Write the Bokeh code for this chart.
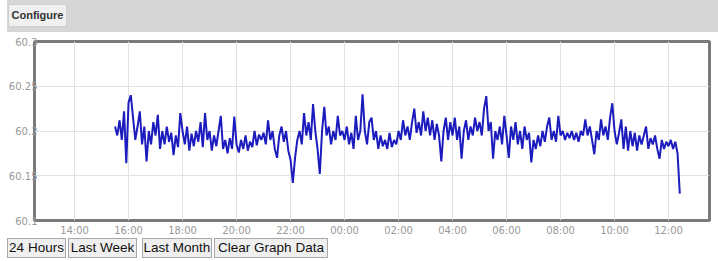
import pandas as pd
from bokeh.plotting import figure
from bokeh.models import Div, FixedTicker, DatetimeTickFormatter, Range1d, ColumnDataSource
from bokeh.layouts import column
from bokeh.embed import file_html
from bokeh.resources import INLINE

# ---------------- data ----------------
start_time = "2017-06-01 15:30"
sample_minutes = 5

seg_1530 = [60.205, 60.195, 60.212, 60.19, 60.222, 60.164]
h16 = [60.232, 60.240, 60.215, 60.19, 60.205, 60.222, 60.185, 60.205, 60.166, 60.2, 60.185, 60.21]
h17 = [60.195, 60.218, 60.18, 60.2, 60.185, 60.205, 60.188, 60.198, 60.173, 60.195, 60.182, 60.22]
h18 = [60.2, 60.185, 60.205, 60.178, 60.197, 60.183, 60.2, 60.188, 60.21, 60.182, 60.22, 60.19]
h19 = [60.2, 60.178, 60.195, 60.183, 60.2, 60.217, 60.18, 60.19, 60.175, 60.192, 60.18, 60.216]
h20 = [60.185, 60.176, 60.19, 60.18, 60.195, 60.178, 60.188, 60.182, 60.2, 60.184, 60.196, 60.19]
h21 = [60.198, 60.185, 60.212, 60.19, 60.2, 60.18, 60.17, 60.195, 60.205, 60.188, 60.2, 60.178]
h22 = [60.168, 60.142, 60.17, 60.19, 60.2, 60.185, 60.22, 60.195, 60.21, 60.19, 60.23, 60.2]
h23 = [60.18, 60.152, 60.2, 60.227, 60.195, 60.205, 60.185, 60.2, 60.19, 60.217, 60.195, 60.2]
h00 = [60.19, 60.205, 60.185, 60.198, 60.18, 60.217, 60.19, 60.2, 60.241, 60.2, 60.185, 60.21]
h01 = [60.215, 60.19, 60.2, 60.18, 60.195, 60.183, 60.19, 60.18, 60.198, 60.182, 60.19, 60.185]
h02 = [60.2, 60.19, 60.212, 60.195, 60.205, 60.19, 60.21, 60.225, 60.198, 60.21, 60.195, 60.222]
h03 = [60.2, 60.215, 60.195, 60.212, 60.19, 60.208, 60.195, 60.166, 60.2, 60.215, 60.19, 60.21]
h04 = [60.195, 60.215, 60.19, 60.205, 60.169, 60.2, 60.212, 60.19, 60.205, 60.195, 60.215, 60.2]
h05 = [60.21, 60.195, 60.225, 60.239, 60.2, 60.21, 60.169, 60.2, 60.19, 60.205, 60.185, 60.217]
h06 = [60.195, 60.17, 60.205, 60.19, 60.21, 60.185, 60.2, 60.18, 60.205, 60.19, 60.198, 60.165]
h07 = [60.19, 60.18, 60.195, 60.183, 60.2, 60.188, 60.205, 60.215, 60.19, 60.2, 60.188, 60.217]
h08 = [60.195, 60.2, 60.19, 60.198, 60.192, 60.2, 60.19, 60.198, 60.188, 60.2, 60.195, 60.213]
h09 = [60.195, 60.205, 60.19, 60.174, 60.2, 60.19, 60.213, 60.195, 60.205, 60.19, 60.215, 60.231]
h10 = [60.2, 60.185, 60.198, 60.213, 60.18, 60.205, 60.178, 60.2, 60.183, 60.198, 60.178, 60.195]
h11 = [60.185, 60.195, 60.205, 60.18, 60.192, 60.185, 60.195, 60.18, 60.169, 60.19, 60.18, 60.188]
seg_1200 = [60.183, 60.19, 60.18, 60.188, 60.175, 60.13]

x_start = "2017-06-01 12:31"
x_end = "2017-06-02 13:31"
x_first_tick = "2017-06-01 14:00"
x_last_tick = "2017-06-02 12:00"
y_ticks = [60.1, 60.15, 60.2, 60.25, 60.3]
y_tick_labels = ["60.1", "60.15", "60.2", "60.25", "60.3"]
top_button = "Configure"
bottom_buttons = ["24 Hours", "Last Week", "Last Month", "Clear Graph Data"]

# ---------------- build ----------------
freq = (seg_1530 + h16 + h17 + h18 + h19 + h20 + h21 + h22 + h23 + h00 + h01 +
        h02 + h03 + h04 + h05 + h06 + h07 + h08 + h09 + h10 + h11 + seg_1200)
times = pd.date_range(start_time, periods=len(freq), freq=f"{sample_minutes}min")
src = ColumnDataSource(dict(t=times, f=freq))

tick_ms = [int(ts.value // 10**6) for ts in pd.date_range(x_first_tick, x_last_tick, freq="2h")]

p = figure(x_axis_type="datetime", frame_width=675, frame_height=179,
           min_border_left=34, min_border_right=7, min_border_top=9, min_border_bottom=17,
           x_range=Range1d(pd.Timestamp(x_start), pd.Timestamp(x_end)),
           y_range=Range1d(60.1, 60.3),
           toolbar_location=None, output_backend="svg", margin=0)
p.line("t", "f", source=src, line_color="#1c1cbe", line_width=2)

p.outline_line_color = "#7a7a7a"
p.outline_line_width = 3
p.background_fill_color = "white"
p.border_fill_color = "white"

fmt = "%H:%M"
p.xaxis.formatter = DatetimeTickFormatter(hours=fmt, hourmin=fmt, minutes=fmt, minsec=fmt,
                                          days=fmt, months=fmt, years=fmt)
p.xaxis.ticker = FixedTicker(ticks=tick_ms)
p.yaxis.ticker = FixedTicker(ticks=y_ticks)
p.yaxis.major_label_overrides = {v: s for v, s in zip(y_ticks, y_tick_labels)}

for ax in (p.xaxis, p.yaxis):
    ax.axis_line_color = None
    ax.major_tick_line_color = None
    ax.minor_tick_line_color = None
    ax.major_tick_out = 0
    ax.major_tick_in = 0
    ax.major_label_text_color = "#999999"
    ax.major_label_text_font = "DejaVu Sans"
    ax.major_label_text_font_size = "10px"
p.xaxis.major_label_standoff = 4
p.yaxis.major_label_standoff = -3

p.xgrid.grid_line_color = "#e2e2e2"
p.ygrid.grid_line_color = "#e2e2e2"

top_html = (
    '<div style="position:relative;width:716px;height:32px;">'
    '<div style="position:absolute;left:7px;top:0px;width:711px;height:32px;background:#d6d6d6;"></div>'
    '<div style="position:absolute;left:8px;top:4px;width:59px;height:23px;box-sizing:border-box;'
    'background:#f0f0f0;border:1px solid #cfcfcf;border-radius:2px;color:#333;'
    "font-family:'Liberation Sans',Arial;font-weight:bold;font-size:11px;line-height:21px;text-align:center;\">"
    + top_button + '</div></div>'
)
top = Div(text=top_html, width=716, height=32, margin=0)

btn_left = [7, 68, 142, 214]
btn_width = [59, 69, 70, 114]
parts = ['<div style="position:relative;width:716px;height:20px;">']
for lbl, l, w in zip(bottom_buttons, btn_left, btn_width):
    parts.append(
        f'<div style="position:absolute;left:{l}px;top:0px;width:{w}px;height:20px;box-sizing:border-box;'
        'background:#efefef;border:1px solid #a8a8a8;color:#111;'
        "font-family:'Liberation Sans',Arial;font-size:13.5px;line-height:18px;text-align:center;white-space:nowrap;\">"
        + lbl + '</div>')
parts.append('</div>')
bottom = Div(text="".join(parts), width=716, height=20, margin=0)

layout = column(top, p, bottom, spacing=0, margin=0)
open("out.html", "w").write(file_html(layout, INLINE))
